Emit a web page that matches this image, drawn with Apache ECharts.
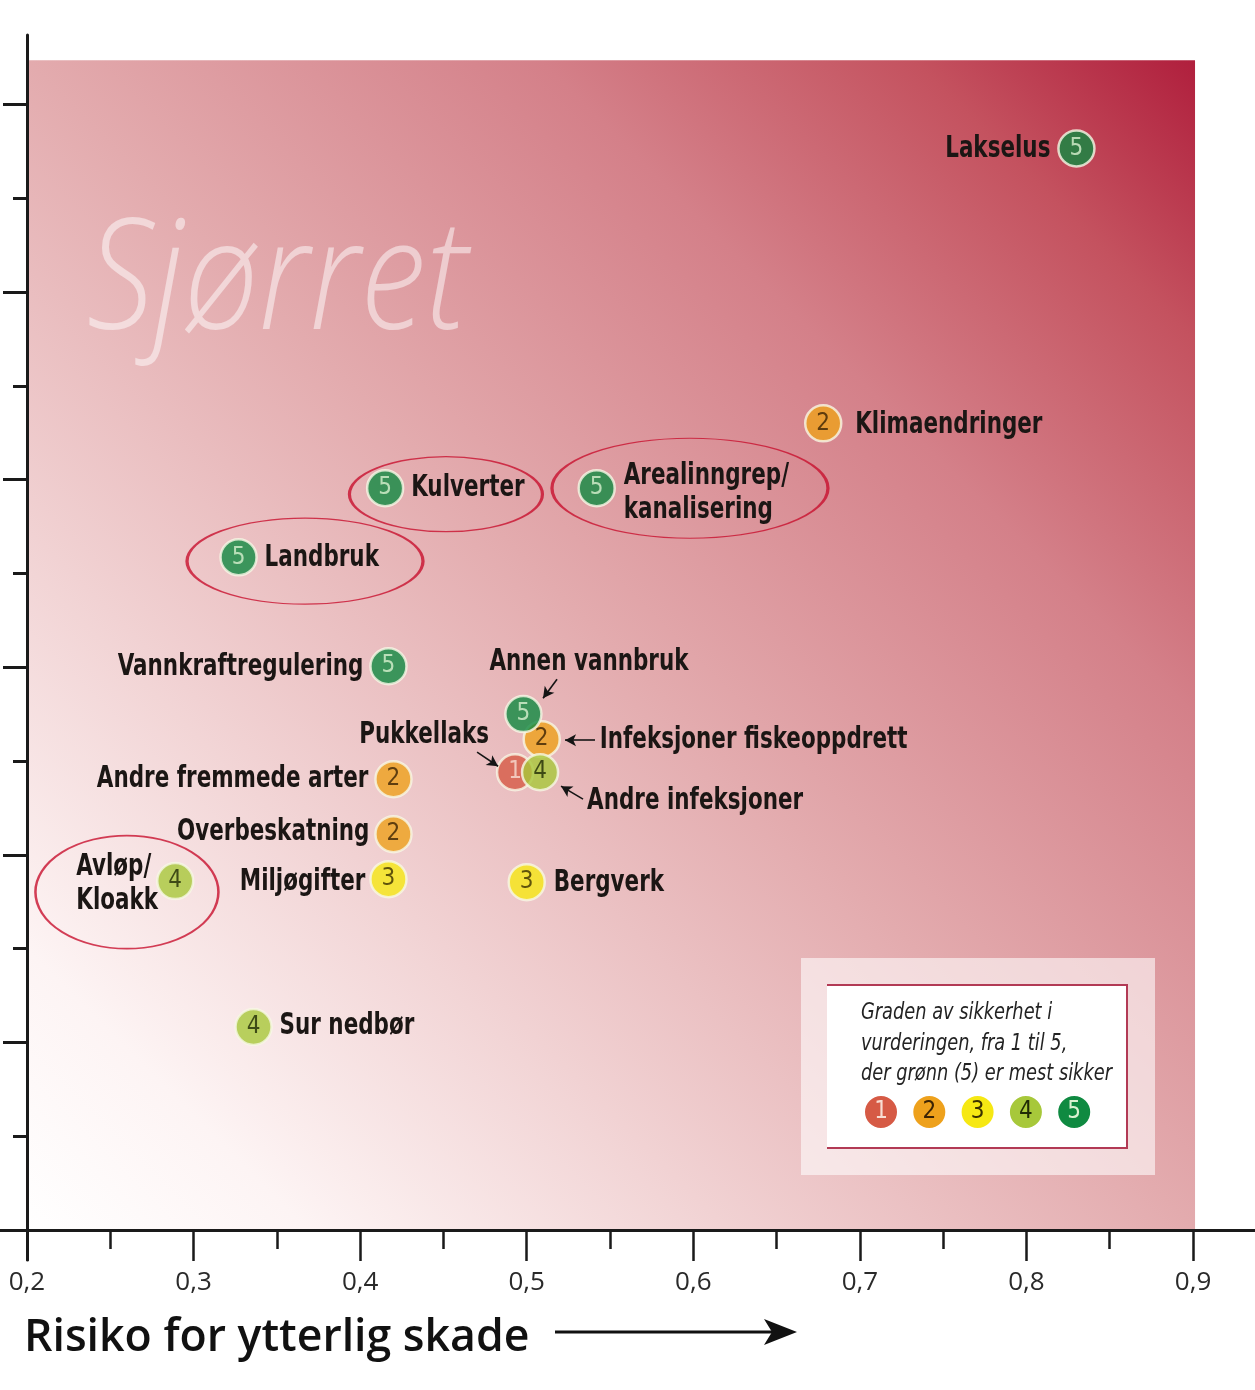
<!DOCTYPE html>
<html>
<head>
<meta charset="utf-8">
<script src="https://cdn.jsdelivr.net/npm/echarts@6/dist/echarts.min.js"></script>
<style>
  html, body { margin: 0; padding: 0; background: #fff; }
  #chart { width: 1255px; height: 1390px; }
</style>
</head>
<body>
<div id="chart"></div>
<script>
// påvirkningsfaktorer for sjøørret
const names = ['Pukkellaks', 'Infeksjoner fiskeoppdrett', 'Andre infeksjoner', 'Annen vannbruk',
  'Lakselus', 'Klimaendringer', 'Kulverter', 'Arealinngrep/\nkanalisering', 'Landbruk',
  'Vannkraftregulering', 'Andre fremmede arter', 'Overbeskatning', 'Miljøgifter',
  'Avløp/\nKloakk', 'Bergverk', 'Sur nedbør']
const risk = [0.493, 0.509, 0.508, 0.498, 0.830, 0.678, 0.415, 0.542, 0.327,
  0.417, 0.420, 0.420, 0.417, 0.289, 0.500, 0.336]
const level = [2.44, 2.616, 2.44, 2.75, 5.765, 4.30, 3.954, 3.954, 3.586,
  3.005, 2.403, 2.11, 1.87, 1.86, 1.854, 1.082]
const certainty = [1, 2, 4, 5, 5, 2, 5, 5, 5, 5, 2, 2, 3, 4, 3, 4]

// ringer rundt utvalgte faktorer
const ringNames = ['Kulverter', 'Arealinngrep', 'Landbruk', 'Avløp/Kloakk']
const ringX = [0.4515, 0.598, 0.3669, 0.260]
const ringY = [3.922, 3.954, 3.565, 1.801]

// små piler fra tekst til punkt
const arrowFrom = [[0.5182, 2.936], [0.5410, 2.611], [0.4702, 2.547], [0.5338, 2.297]]
const arrowTo = [[0.5098, 2.835], [0.5230, 2.611], [0.4828, 2.472], [0.5206, 2.366]]

const xTicks = [0.2, 0.3, 0.4, 0.5, 0.6, 0.7, 0.8, 0.9]
const xMinorTicks = [0.25, 0.35, 0.45, 0.55, 0.65, 0.75, 0.85]
const yTicks = [1, 2, 3, 4, 5, 6]
const yMinorTicks = [0.5, 1.5, 2.5, 3.5, 4.5, 5.5]
const levels = [1, 2, 3, 4, 5]

const levelColor = { 1: '#d65a45', 2: '#eea11c', 3: '#f6e813', 4: '#a7c83a', 5: '#0f8a41' }
const numColor = { 1: '#f8ddd3', 2: '#3b2304', 3: '#3a3000', 4: '#1f2a05', 5: '#d9f1d0' }

const condFont = '"DejaVu Sans Condensed", "DejaVu Sans", sans-serif'

// tekstplassering (px fra punktet) per faktor
const labelLayout = {
  'Pukkellaks': { dx: -26, dy: -37, align: 'right' },
  'Infeksjoner fiskeoppdrett': { dx: 58, dy: 1, align: 'left' },
  'Andre infeksjoner': { dx: 47, dy: 29, align: 'left' },
  'Annen vannbruk': { dx: -34, dy: -52, align: 'left' },
  'Lakselus': { dx: -26, dy: 0, align: 'right' },
  'Klimaendringer': { dx: 32, dy: 2, align: 'left' },
  'Kulverter': { dx: 26, dy: 0, align: 'left' },
  'Arealinngrep/\nkanalisering': { dx: 27, dy: 5, align: 'left' },
  'Landbruk': { dx: 26, dy: 1, align: 'left' },
  'Vannkraftregulering': { dx: -25, dy: 1, align: 'right' },
  'Andre fremmede arter': { dx: -25, dy: 0, align: 'right' },
  'Overbeskatning': { dx: -24, dy: -2, align: 'right' },
  'Miljøgifter': { dx: -23, dy: 3, align: 'right' },
  'Avløp/\nKloakk': { dx: -99, dy: 3, align: 'left' },
  'Bergverk': { dx: 27, dy: 1, align: 'left' },
  'Sur nedbør': { dx: 26, dy: -1, align: 'left' }
}
const ringSize = { 'Kulverter': [193, 75], 'Arealinngrep': [276, 100], 'Landbruk': [236, 86], 'Avløp/Kloakk': [183, 113] }

const chart = echarts.init(document.getElementById('chart'))

const axisColor = '#1a1a1a'
const commonX = {
  type: 'value', min: 0.1838, max: 0.9372, z: 5,
  splitLine: { show: false }
}
const commonY = {
  type: 'value', min: -0.16, max: 6.37, offset: -27, z: 5, position: 'left',
  splitLine: { show: false }, axisLabel: { show: false }
}

const markerData = names.map((n, i) => ({
  name: n,
  value: [risk[i], level[i]],
  itemStyle: { color: levelColor[certainty[i]] },
  label: { formatter: String(certainty[i]), color: numColor[certainty[i]] }
}))

const ringData = ringNames.map((n, i) => ({
  name: n,
  value: [ringX[i], ringY[i]],
  symbolSize: ringSize[n]
}))

const renderName = (params, api) => {
  const i = params.dataIndex
  const pt = api.coord([api.value(0), api.value(1)])
  const lay = labelLayout[names[i]]
  return {
    type: 'text',
    x: pt[0] + lay.dx,
    y: pt[1] + lay.dy,
    scaleX: 0.77,
    style: {
      text: names[i],
      font: 'bold 31px ' + condFont,
      lineHeight: 34,
      fill: '#1b1614',
      align: lay.align,
      verticalAlign: 'middle'
    }
  }
}

const option = {
  animation: false,
  backgroundColor: '#ffffff',
  grid: { left: 0, right: 0, top: 35, bottom: 130 },
  xAxis: [
    Object.assign({}, commonX, {
      position: 'bottom',
      axisLine: { show: true, onZero: true, onZeroAxisIndex: 0, lineStyle: { color: axisColor, width: 3 } },
      axisTick: { show: true, customValues: xTicks, length: 31, lineStyle: { color: axisColor, width: 2.5 } },
      axisLabel: {
        customValues: xTicks, margin: 10, fontSize: 26, color: '#2a2a2a',
        fontFamily: '"Open Sans", sans-serif',
        formatter: v => v.toFixed(1).replace('.', ',')
      }
    }),
    Object.assign({}, commonX, {
      position: 'bottom',
      axisLine: { show: false, onZero: true, onZeroAxisIndex: 0 },
      axisTick: { show: true, customValues: xMinorTicks, length: 19, lineStyle: { color: axisColor, width: 2.5 } },
      axisLabel: { show: false }
    })
  ],
  yAxis: [
    Object.assign({}, commonY, {
      axisLine: { show: true, onZero: false, lineStyle: { color: axisColor, width: 3 } },
      axisTick: { show: true, customValues: yTicks, length: 24, lineStyle: { color: axisColor, width: 3 } }
    }),
    Object.assign({}, commonY, {
      axisLine: { show: false, onZero: false },
      axisTick: { show: true, customValues: yMinorTicks, length: 14, lineStyle: { color: axisColor, width: 3 } }
    })
  ],
  series: [
    {
      // bakgrunn + piler
      type: 'scatter',
      name: 'bakgrunn',
      z: 1,
      silent: true,
      data: [],
      markArea: {
        silent: true,
        z: 0,
        itemStyle: {
          color: new echarts.graphic.LinearGradient(0, 1, 1, 0, [
            { offset: 0, color: '#ffffff' },
            { offset: 0.12, color: '#fdf4f4' },
            { offset: 0.3, color: '#f1d2d3' },
            { offset: 0.5, color: '#e3abae' },
            { offset: 0.72, color: '#d48089' },
            { offset: 0.88, color: '#c4525f' },
            { offset: 1, color: '#b01f3d' }
          ])
        },
        data: [[{ coord: [0.2, 0] }, { coord: [0.9012, 6.236] }]]
      },
      markLine: {
        silent: true,
        symbol: ['none', 'arrow'],
        symbolSize: [9, 11],
        label: { show: false },
        lineStyle: { color: '#151515', width: 1.6, type: 'solid' },
        data: arrowFrom.map((a, i) => [{ coord: a }, { coord: arrowTo[i] }])
      }
    },
    {
      // navn
      type: 'custom',
      name: 'navn',
      z: 3,
      silent: true,
      renderItem: renderName,
      data: names.map((n, i) => [risk[i], level[i]])
    },
    {
      // ringer
      type: 'scatter',
      name: 'ringer',
      z: 3,
      silent: true,
      symbol: 'circle',
      itemStyle: { color: 'rgba(0,0,0,0)', borderColor: '#c8102e', borderWidth: 2 },
      data: ringData
    },
    {
      // punkter
      type: 'scatter',
      name: 'sikkerhet',
      z: 4,
      silent: true,
      symbolSize: 36,
      itemStyle: { borderColor: '#f7f8e6', borderWidth: 2.5 },
      label: {
        show: true,
        position: 'inside',
        fontFamily: condFont,
        fontSize: 24
      },
      data: markerData
    }
  ],
  graphic: [
    {
      type: 'text', x: 87, y: 209, z: 3, silent: true, scaleX: 0.87,
      style: {
        text: 'Sjørret',
        font: 'italic 300 153px "Open Sans", sans-serif',
        fill: 'rgba(255,255,255,0.5)',
        verticalAlign: 'top'
      }
    },
    {
      type: 'rect', z: 6, silent: true,
      shape: { x: 801, y: 958, width: 354, height: 217 },
      style: { fill: 'rgba(255,255,255,0.58)' }
    },
    {
      type: 'rect', z: 7, silent: true,
      shape: { x: 827, y: 985, width: 300, height: 163 },
      style: { fill: '#ffffff' }
    },
    {
      type: 'polyline', z: 8, silent: true,
      shape: { points: [[827, 985], [1127, 985], [1127, 1148], [827, 1148]] },
      style: { stroke: '#b23a55', lineWidth: 2, fill: null }
    },
    {
      type: 'text', x: 861, y: 998, z: 8, silent: true, scaleX: 0.86,
      style: {
        text: 'Graden av sikkerhet i\nvurderingen, fra 1 til 5,\nder grønn (5) er mest sikker',
        font: 'italic 23px ' + condFont,
        lineHeight: 30.5,
        fill: '#232323',
        verticalAlign: 'top'
      }
    },
    ...levels.map((l, i) => ({
      type: 'circle', z: 8, silent: true,
      shape: { cx: 881 + i * 48.3, cy: 1112, r: 17 },
      style: { fill: levelColor[l], stroke: '#ffffff', lineWidth: 2 }
    })),
    ...levels.map((l, i) => ({
      type: 'text', z: 9, silent: true,
      x: 881 + i * 48.3, y: 1112,
      style: { text: String(l), font: '24px ' + condFont, fill: numColor[l], align: 'center', verticalAlign: 'middle' }
    })),
    {
      type: 'text', x: 24, y: 1316, z: 8, silent: true,
      style: {
        text: 'Risiko for ytterlig skade',
        font: '600 44.6px "Open Sans", sans-serif',
        fill: '#111111',
        verticalAlign: 'top'
      }
    },
    {
      type: 'line', z: 8, silent: true,
      shape: { x1: 555, y1: 1332, x2: 778, y2: 1332 },
      style: { stroke: '#111111', lineWidth: 3 }
    },
    {
      type: 'polygon', z: 8, silent: true,
      shape: { points: [[764, 1319], [797, 1332], [764, 1345], [772, 1332]] },
      style: { fill: '#111111' }
    }
  ]
}

chart.setOption(option)
</script>
</body>
</html>
